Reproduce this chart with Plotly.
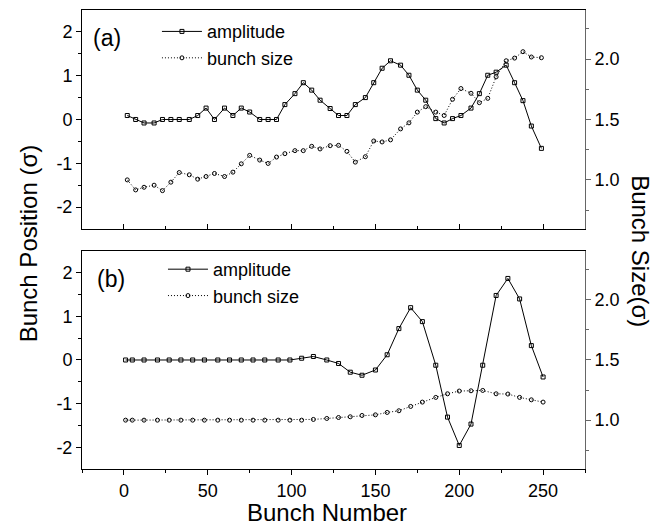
import plotly.graph_objects as go

# panel (a)
x_a = [2, 7, 12, 18, 23, 28, 33, 39, 44, 49, 54, 60, 65, 70, 75, 81, 86, 91, 96, 102,
       107, 112, 117, 123, 128, 133, 138, 144, 149, 154, 159, 165, 170, 175, 180, 186,
       191, 196, 201, 207, 212, 217, 222, 228, 233, 238, 243, 249]
amp_a = [0.09, 0, -0.08, -0.08, 0, 0, 0, 0, 0.09, 0.26, 0, 0.26, 0.09, 0.26, 0.17, 0,
         0, 0, 0.34, 0.59, 0.84, 0.67, 0.44, 0.25, 0.09, 0.09, 0.34, 0.5, 0.84, 1.17,
         1.34, 1.24, 1.01, 0.67, 0.44, 0.02, -0.08, 0.02, 0.09, 0.26, 0.59, 1.01, 1.08,
         1.24, 0.84, 0.43, -0.15, -0.66]
size_a = [1.0, 0.917, 0.939, 0.956, 0.911, 0.981, 1.061, 1.042, 1.006, 1.028, 1.053,
          1.028, 1.064, 1.133, 1.203, 1.164, 1.136, 1.189, 1.217, 1.242, 1.242, 1.278,
          1.256, 1.283, 1.286, 1.236, 1.147, 1.192, 1.322, 1.314, 1.331, 1.422, 1.472,
          1.561, 1.606, 1.561, 1.533, 1.667, 1.756, 1.717, 1.639, 1.675, 1.853, 1.986,
          2.008, 2.061, 2.017, 2.011]

# panel (b)
x_b = [1, 5, 12, 20, 27, 34, 41, 48, 56, 63, 70, 77, 84, 92, 99, 106, 113, 121, 128,
       135, 142, 150, 157, 164, 171, 178, 186, 193, 200, 207, 214, 222, 229, 236, 243, 250]
amp_b = [0, 0, 0, 0, 0, 0, 0, 0, 0, 0, 0, 0, 0, 0, 0, 0.04, 0.08, 0, -0.08, -0.28,
         -0.35, -0.23, 0.12, 0.72, 1.2, 0.88, -0.12, -1.31, -1.96, -1.47, -0.12, 1.48,
         1.87, 1.4, 0.33, -0.39]
size_b = [1.0, 1.0, 1.0, 1.0, 1.0, 1.0, 1.0, 1.0, 1.0, 1.0, 1.0, 1.0, 1.0, 1.0, 1.0,
          1.0, 1.006, 1.014, 1.022, 1.028, 1.039, 1.044, 1.064, 1.078, 1.114, 1.15,
          1.189, 1.219, 1.242, 1.244, 1.247, 1.219, 1.217, 1.189, 1.169, 1.15]

pos_ticks = [-2, -1, 0, 1, 2]
pos_labels = ["-2", "-1", "0", "1", "2"]
size_ticks = [1.0, 1.5, 2.0]
num_ticks = [0, 50, 100, 150, 200, 250]

FONT = "Liberation Sans, Arial, sans-serif"
amp_style = dict(mode="lines+markers", line=dict(color="black", width=1),
                 marker=dict(symbol="square-open", size=4, color="black", line=dict(width=1)))
size_style = dict(mode="lines+markers", line=dict(color="black", width=1, dash="1px,2px"),
                  marker=dict(symbol="circle-open", size=4, color="black", line=dict(width=1)))

fig = go.Figure()
fig.add_trace(go.Scatter(x=x_a, y=amp_a, name="amplitude", xaxis="x", yaxis="y", legend="legend", **amp_style))
fig.add_trace(go.Scatter(x=x_a, y=size_a, name="bunch size", xaxis="x", yaxis="y2", legend="legend", **size_style))
fig.add_trace(go.Scatter(x=x_b, y=amp_b, name="amplitude", xaxis="x2", yaxis="y3", legend="legend2", **amp_style))
fig.add_trace(go.Scatter(x=x_b, y=size_b, name="bunch size", xaxis="x2", yaxis="y4", legend="legend2", **size_style))

tickfont = dict(family=FONT, size=18, color="black")
xcommon = dict(range=[-25, 275], tickvals=num_ticks, showgrid=False, automargin=False,
               zeroline=False, showline=True, linecolor="black", linewidth=1, mirror=True,
               ticklen=5, tickcolor="black", tickfont=tickfont)
xminor = [-25, 25, 75, 125, 175, 225, 275]
yleft = dict(range=[-2.5, 2.5], tickvals=pos_ticks, ticktext=pos_labels, showgrid=False,
             zeroline=False, automargin=False,
             showline=True, linecolor="black", linewidth=1, ticks="outside", ticklen=5,
             tickcolor="black", tickfont=tickfont,
             minor=dict(tickvals=[-1.5, -0.5, 0.5, 1.5], ticks="outside", ticklen=3, tickcolor="black"))
yright = dict(range=[0.594, 2.406], tickvals=size_ticks, tickformat=".1f", side="right",
              showgrid=False, zeroline=False, showline=True, linecolor="#666", linewidth=1,
              automargin=False, ticks="outside", ticklen=5, tickcolor="#666", tickfont=tickfont,
              minor=dict(tickvals=[0.75, 1.25, 1.75, 2.25], ticks="outside", ticklen=3, tickcolor="#666"))

legend_style = dict(xanchor="left", yanchor="top", bgcolor="rgba(0,0,0,0)",
                    font=dict(family=FONT, size=18), tracegroupgap=0, itemwidth=40)

fig.update_layout(
    width=662, height=529,
    margin=dict(l=82, r=77, t=10, b=60),
    plot_bgcolor="white", paper_bgcolor="white",
    font=dict(family=FONT, color="black"),
    xaxis=dict(xcommon, anchor="y", ticks="inside", showticklabels=False,
               minor=dict(tickvals=xminor, ticks="inside", ticklen=3, tickcolor="black")),
    yaxis=dict(yleft, domain=[0.523, 1], anchor="x"),
    yaxis2=dict(yright, domain=[0.523, 1], anchor="x", overlaying="y"),
    xaxis2=dict(xcommon, anchor="y3", ticks="outside",
                minor=dict(tickvals=xminor, ticks="outside", ticklen=3, tickcolor="black")),
    yaxis3=dict(yleft, domain=[0, 0.475], anchor="x2"),
    yaxis4=dict(yright, domain=[0, 0.475], anchor="x2", overlaying="y3"),
    legend=dict(legend_style, x=0.149, y=0.993),
    legend2=dict(legend_style, x=0.161, y=0.475),
    annotations=[
        dict(text="(a)", x=0.0497, y=0.939, xref="paper", yref="paper", showarrow=False,
             xanchor="center", yanchor="middle", font=dict(size=23)),
        dict(text="(b)", x=0.058, y=0.414, xref="paper", yref="paper", showarrow=False,
             xanchor="center", yanchor="middle", font=dict(size=23)),
        dict(text="Bunch Position (σ)", x=-0.107, y=0.492, xref="paper", yref="paper",
             xanchor="center", yanchor="middle", showarrow=False, textangle=-90,
             font=dict(size=24)),
        dict(text="Bunch Size(σ)", x=1.109, y=0.475, xref="paper", yref="paper",
             xanchor="center", yanchor="middle", showarrow=False, textangle=90,
             font=dict(size=24)),
        dict(text="Bunch Number", x=0.488, y=0, xref="paper", yref="paper", yshift=-43,
             xanchor="center", yanchor="middle", showarrow=False, font=dict(size=24)),
    ],
)

fig.write_html("out.html", config={"displayModeBar": False},
               post_script="document.body.style.margin='0';")
